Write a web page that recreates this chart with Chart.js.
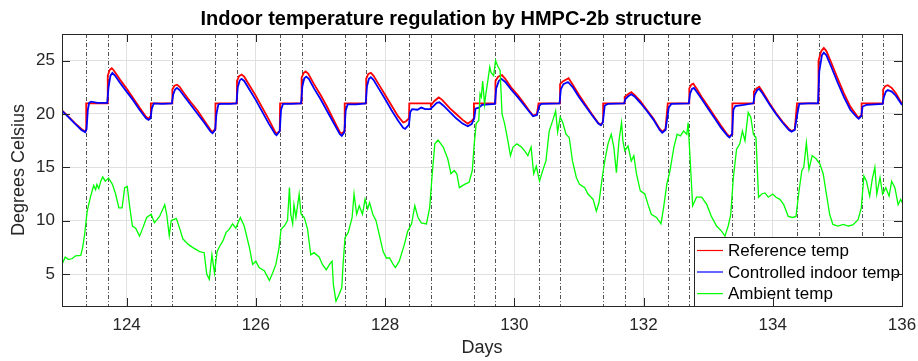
<!DOCTYPE html>
<html>
<head>
<meta charset="utf-8">
<script src="https://cdn.jsdelivr.net/npm/chart.js@4"></script>
<style>
  html, body { margin: 0; padding: 0; background: #fff; }
  canvas { display: block; }
</style>
</head>
<body>
<canvas id="tempChart" width="918" height="361"></canvas>
<script>
// Data
const xTicks = [124, 126, 128, 130, 132, 134, 136];
const yTicks = [5, 10, 15, 20, 25];

// occupancy switch times (09:00 and 17:00 each day)
const switchDays = [
  123.375, 123.708, 124.375, 124.708, 125.375, 125.708, 126.375, 126.708,
  127.375, 127.708, 128.375, 128.708, 129.375, 129.708, 130.375, 130.708,
  131.375, 131.708, 132.375, 132.708, 133.375, 133.708, 134.375, 134.708,
  135.375, 135.708,
];

// Reference temp
const refDays = [
  123.0, 123.1, 123.2, 123.3, 123.36, 123.375, 123.375, 123.708, 123.708, 123.74, 123.77, 123.8, 123.9, 124.0, 124.1, 124.2, 124.3, 124.34, 124.37,
  124.375, 124.708, 124.708, 124.74, 124.78, 124.82, 124.9, 125.0, 125.1, 125.2, 125.3, 125.33, 125.37,
  125.375, 125.708, 125.708, 125.74, 125.78, 125.82, 125.9, 126.0, 126.1, 126.2, 126.3, 126.32, 126.37,
  126.375, 126.708, 126.708, 126.74, 126.77, 126.81, 126.9, 127.0, 127.1, 127.2, 127.3, 127.33, 127.37,
  127.375, 127.708, 127.708, 127.74, 127.78, 127.82, 127.9, 128.0, 128.1, 128.2, 128.28, 128.32, 128.37,
  128.375, 128.708, 128.708, 128.76, 128.83, 128.88, 129.0, 129.1, 129.2, 129.28, 129.34, 129.375,
  129.375, 129.708, 129.708, 129.75, 129.81, 129.86, 129.95, 130.05, 130.15, 130.22, 130.29, 130.35,
  130.375, 130.708, 130.708, 130.75, 130.84, 130.9, 131.0, 131.1, 131.2, 131.3, 131.34, 131.375,
  131.375, 131.708, 131.708, 131.76, 131.81, 131.86, 131.95, 132.05, 132.15, 132.25, 132.29, 132.34,
  132.375, 132.708, 132.708, 132.74, 132.77, 132.82, 132.9, 133.0, 133.1, 133.2, 133.3, 133.33, 133.37,
  133.375, 133.708, 133.708, 133.75, 133.79, 133.84, 133.95, 134.05, 134.15, 134.25, 134.29, 134.34,
  134.375, 134.708, 134.708, 134.75, 134.79, 134.83, 134.9, 135.0, 135.1, 135.2, 135.3, 135.33, 135.37,
  135.375, 135.708, 135.708, 135.74, 135.78, 135.84, 135.9, 136.0,
];
const refTemp = [
  20.35, 19.75, 19.15, 18.6, 18.35, 18.5, 21.0, 21.0, 23.6, 24.15, 24.3, 24.1, 23.2, 22.4, 21.5, 20.6, 19.75, 19.55, 19.8,
  21.0, 21.0, 22.3, 22.65, 22.75, 22.55, 21.85, 21.05, 20.3, 19.4, 18.5, 18.3, 18.6,
  21.0, 21.0, 23.1, 23.55, 23.7, 23.5, 22.7, 21.7, 20.6, 19.5, 18.3, 18.15, 18.4,
  21.0, 21.0, 23.4, 23.85, 24.0, 23.8, 22.8, 21.8, 20.7, 19.5, 18.3, 18.15, 18.4,
  21.0, 21.0, 23.3, 23.75, 23.85, 23.6, 22.8, 21.8, 20.8, 19.8, 19.2, 19.3, 19.6,
  21.0, 21.0, 20.8, 21.2, 21.55, 21.35, 20.55, 20.0, 19.45, 19.1, 19.35, 19.6,
  21.0, 21.0, 23.1, 23.5, 23.65, 23.3, 22.5, 21.8, 21.0, 20.4, 19.85, 20.0,
  21.0, 21.0, 22.8, 23.05, 23.35, 22.8, 21.8, 20.9, 20.0, 19.15, 19.0, 19.3,
  21.0, 21.0, 21.6, 21.85, 22.05, 21.8, 21.2, 20.4, 19.6, 18.6, 18.35, 18.6,
  21.0, 21.0, 22.4, 22.75, 22.85, 22.4, 21.6, 20.7, 19.8, 18.9, 18.05, 17.9, 18.1,
  21.0, 21.0, 22.1, 22.4, 22.55, 22.1, 21.0, 20.1, 19.3, 18.6, 18.4, 18.55,
  21.0, 21.0, 25.0, 25.9, 26.2, 25.9, 24.9, 23.4, 21.95, 20.7, 19.85, 19.65, 19.9,
  21.0, 21.0, 22.3, 22.6, 22.7, 22.45, 22.0, 20.95,
];

// Controlled indoor temp
const ctrlDays = [
  123.0, 123.1, 123.2, 123.3, 123.36, 123.38, 123.4, 123.42, 123.45, 123.55, 123.7, 123.72, 123.75, 123.78, 123.82, 123.9, 124.0, 124.1, 124.2, 124.3, 124.34, 124.37,
  124.39, 124.42, 124.55, 124.7, 124.72, 124.75, 124.78, 124.82, 124.9, 125.0, 125.1, 125.2, 125.3, 125.33, 125.37,
  125.39, 125.42, 125.46, 125.6, 125.7, 125.72, 125.75, 125.78, 125.82, 125.9, 126.0, 126.1, 126.2, 126.3, 126.32, 126.37,
  126.39, 126.42, 126.55, 126.7, 126.72, 126.75, 126.78, 126.82, 126.9, 127.0, 127.1, 127.2, 127.3, 127.33, 127.37,
  127.39, 127.42, 127.55, 127.7, 127.72, 127.75, 127.78, 127.82, 127.9, 128.0, 128.1, 128.2, 128.28, 128.31, 128.37,
  128.39, 128.42, 128.5, 128.56, 128.62, 128.7, 128.74, 128.8, 128.84, 128.9, 129.0, 129.1, 129.2, 129.28, 129.34, 129.38,
  129.4, 129.45, 129.5, 129.7, 129.72, 129.76, 129.8, 129.86, 129.95, 130.05, 130.15, 130.22, 130.29, 130.35,
  130.39, 130.42, 130.7, 130.72, 130.76, 130.83, 130.9, 131.0, 131.1, 131.2, 131.3, 131.34, 131.37,
  131.4, 131.45, 131.7, 131.72, 131.77, 131.81, 131.86, 131.95, 132.05, 132.15, 132.25, 132.29, 132.34,
  132.39, 132.43, 132.7, 132.72, 132.75, 132.78, 132.82, 132.9, 133.0, 133.1, 133.2, 133.3, 133.33, 133.37,
  133.39, 133.42, 133.55, 133.7, 133.72, 133.76, 133.79, 133.84, 133.95, 134.05, 134.15, 134.25, 134.29, 134.34,
  134.38, 134.41, 134.55, 134.7, 134.72, 134.76, 134.79, 134.83, 134.9, 135.0, 135.1, 135.2, 135.3, 135.33, 135.37,
  135.39, 135.45, 135.7, 135.72, 135.75, 135.78, 135.84, 135.9, 136.0,
];
const ctrlTemp = [
  20.3, 19.7, 19.1, 18.5, 18.3, 18.6, 20.4, 21.05, 21.15, 21.05, 21.05, 22.5, 23.6, 23.85, 23.6, 22.9, 22.1, 21.3, 20.4, 19.6, 19.45, 19.6,
  20.5, 21.0, 20.95, 21.0, 21.8, 22.3, 22.45, 22.25, 21.6, 20.8, 20.0, 19.2, 18.35, 18.2, 18.5,
  20.0, 20.9, 20.95, 20.95, 21.0, 22.5, 23.15, 23.3, 23.1, 22.3, 21.3, 20.2, 19.1, 18.1, 18.0, 18.4,
  20.4, 20.95, 20.95, 21.0, 22.6, 23.35, 23.5, 23.3, 22.4, 21.4, 20.3, 19.2, 18.1, 17.95, 18.3,
  20.3, 20.9, 20.9, 21.0, 22.6, 23.3, 23.45, 23.2, 22.4, 21.4, 20.35, 19.4, 18.7, 18.6, 19.0,
  20.2, 20.45, 20.4, 20.6, 20.45, 20.45, 20.7, 21.05, 21.1, 20.8, 20.2, 19.6, 19.1, 18.85, 19.05, 19.6,
  20.5, 20.6, 20.85, 20.95, 22.4, 23.1, 23.3, 23.0, 22.3, 21.6, 20.85, 20.3, 19.8, 19.9,
  20.8, 20.95, 21.0, 22.3, 22.8, 23.0, 22.55, 21.6, 20.75, 19.9, 19.1, 18.95, 19.2,
  20.8, 20.95, 21.0, 21.4, 21.7, 21.85, 21.65, 21.05, 20.3, 19.5, 18.5, 18.25, 18.5,
  20.6, 20.95, 21.0, 21.9, 22.35, 22.45, 22.1, 21.4, 20.5, 19.6, 18.7, 17.95, 17.8, 18.1,
  20.4, 20.75, 20.85, 21.0, 21.8, 22.25, 22.35, 21.95, 20.9, 20.0, 19.2, 18.5, 18.35, 18.5,
  20.0, 20.95, 21.0, 21.0, 24.0, 25.5, 25.75, 25.5, 24.5, 23.0, 21.6, 20.4, 19.7, 19.55, 19.8,
  20.7, 20.85, 20.95, 21.6, 22.1, 22.25, 22.1, 21.75, 20.85,
];

// Ambient temp
const ambDays = [
  123.0, 123.05, 123.1, 123.16, 123.21, 123.29, 123.32, 123.35, 123.39, 123.44, 123.49, 123.52, 123.54, 123.57, 123.6, 123.63, 123.67, 123.72, 123.78, 123.83,
  123.88, 123.93, 123.97, 124.01, 124.05, 124.09, 124.14, 124.2, 124.25, 124.31, 124.38, 124.43, 124.51, 124.59, 124.62, 124.66, 124.69, 124.72, 124.77, 124.82,
  124.87, 124.95, 125.02, 125.13, 125.2, 125.24, 125.28, 125.32, 125.36, 125.4, 125.44, 125.49, 125.54, 125.59, 125.64, 125.69, 125.76, 125.82, 125.9, 125.95,
  126.0, 126.05, 126.13, 126.21, 126.26, 126.31, 126.36, 126.39, 126.44, 126.49, 126.52, 126.54, 126.57, 126.59, 126.62, 126.67, 126.7, 126.75, 126.8, 126.85,
  126.9, 126.98, 127.03, 127.09, 127.14, 127.18, 127.2, 127.24, 127.29, 127.33, 127.35, 127.38, 127.43, 127.49, 127.52, 127.56, 127.6, 127.65, 127.69, 127.73,
  127.76, 127.81, 127.86, 127.91, 127.97, 128.02, 128.07, 128.12, 128.16, 128.22, 128.3, 128.35, 128.41, 128.46, 128.51, 128.56, 128.64, 128.69, 128.73, 128.77,
  128.82, 128.9, 128.97, 129.02, 129.07, 129.11, 129.15, 129.23, 129.3, 129.35, 129.38, 129.41, 129.45, 129.47, 129.49, 129.51, 129.54, 129.56, 129.59, 129.62,
  129.64, 129.68, 129.71, 129.75, 129.78, 129.81, 129.85, 129.9, 129.94, 129.98, 130.04, 130.11, 130.16, 130.21, 130.26, 130.3, 130.34, 130.39, 130.44, 130.49,
  130.54, 130.6, 130.64, 130.67, 130.71, 130.75, 130.8, 130.85, 130.9, 130.96, 131.01, 131.09, 131.14, 131.22, 131.27, 131.31, 131.36, 131.4, 131.45, 131.5,
  131.54, 131.58, 131.62, 131.66, 131.68, 131.71, 131.76, 131.81, 131.85, 131.89, 131.95, 132.02, 132.07, 132.12, 132.2, 132.27, 132.31, 132.36, 132.41, 132.47,
  132.52, 132.57, 132.62, 132.67, 132.69, 132.72, 132.76, 132.82, 132.9, 132.98, 133.05, 133.13, 133.21, 133.26, 133.31, 133.35, 133.39, 133.44, 133.49, 133.53,
  133.57, 133.62, 133.66, 133.7, 133.74, 133.78, 133.83, 133.88, 133.93, 134.0, 134.05, 134.11, 134.17, 134.24, 134.31, 134.36, 134.4, 134.45, 134.48, 134.52,
  134.56, 134.61, 134.67, 134.73, 134.78, 134.83, 134.88, 134.93, 135.01, 135.09, 135.17, 135.24, 135.32, 135.37, 135.41, 135.45, 135.5, 135.54, 135.58, 135.61,
  135.66, 135.7, 135.75, 135.8, 135.84, 135.89, 135.94, 135.98, 136.0,
];
const ambTemp = [
  5.9, 6.6, 6.35, 6.45, 6.7, 6.75, 7.5, 8.7, 10.9, 12.2, 13.3, 12.9, 13.4, 13.0, 13.7, 14.1, 13.7, 14.0, 13.4, 12.5,
  11.2, 11.2, 13.1, 13.2, 11.2, 9.5, 9.3, 8.55, 9.3, 10.3, 10.6, 9.8, 10.4, 11.5, 10.6, 8.6, 10.0, 10.1, 10.2, 9.3,
  8.3, 7.8, 7.5, 7.1, 7.0, 5.0, 4.5, 6.8, 5.1, 7.1, 7.6, 8.1, 8.9, 9.2, 9.7, 9.3, 10.3, 9.5, 7.5, 5.9,
  6.2, 5.6, 5.3, 4.4, 5.1, 5.9, 7.5, 9.2, 9.5, 10.0, 13.1, 10.6, 9.7, 11.5, 10.3, 12.5, 10.6, 10.3, 9.2, 6.8,
  7.0, 6.6, 5.9, 5.4, 5.9, 6.2, 4.0, 2.45, 3.1, 3.7, 5.9, 8.4, 8.9, 10.3, 12.5, 10.6, 11.4, 10.6, 12.0, 11.1,
  11.7, 10.6, 10.0, 8.7, 7.1, 6.5, 6.5, 5.95, 5.6, 6.2, 7.8, 9.0, 9.7, 11.4, 10.3, 9.8, 9.7, 11.2, 14.4, 17.2,
  17.55, 16.9, 15.8, 14.4, 14.7, 14.4, 13.1, 13.4, 13.6, 14.7, 17.2, 19.1, 19.4, 21.9, 21.6, 23.1, 20.9, 21.9, 23.1, 24.4,
  23.9, 23.6, 25.0, 24.4, 24.1, 20.0, 19.1, 17.5, 16.1, 16.9, 17.2, 16.9, 16.55, 16.1, 16.9, 14.4, 15.1, 13.7, 14.7, 15.6,
  18.4, 19.5, 20.3, 18.3, 19.7, 19.2, 18.1, 17.8, 15.6, 14.05, 13.4, 13.1, 12.5, 12.0, 10.9, 11.7, 14.0, 15.6, 17.2, 18.1,
  16.9, 14.5, 17.5, 19.2, 17.5, 16.55, 17.0, 15.6, 16.1, 14.4, 12.8, 12.5, 11.5, 10.6, 10.3, 9.7, 11.2, 13.4, 14.7, 16.9,
  18.1, 17.95, 18.4, 18.1, 19.2, 15.9, 11.4, 12.2, 12.2, 11.5, 10.4, 9.5, 9.0, 8.55, 9.5, 10.6, 14.05, 16.7, 17.2, 18.4,
  17.5, 20.15, 19.7, 18.1, 17.8, 12.2, 12.5, 12.6, 12.2, 12.5, 12.2, 12.0, 11.5, 10.4, 10.3, 10.4, 12.5, 14.7, 15.0, 17.3,
  14.8, 16.1, 15.8, 15.3, 14.4, 12.5, 10.6, 9.65, 9.5, 9.65, 9.5, 9.6, 10.1, 11.2, 14.2, 13.7, 12.3, 13.9, 15.0, 12.5,
  14.05, 12.5, 13.1, 12.3, 13.7, 13.1, 11.5, 12.0, 11.7,
];

const toPoints = (xs, ys) => xs.map((x, i) => ({ x: x, y: ys[i] }));

const axisColor = "#262626";
const fontFamily = "'Liberation Sans', Arial, Helvetica, sans-serif";

// dash-dot switch lines behind the curves
const switchLines = {
  id: "switchLines",
  beforeDatasetsDraw(chart) {
    const { ctx, chartArea, scales } = chart;
    ctx.save();
    ctx.strokeStyle = "#555";
    ctx.lineWidth = 1;
    ctx.setLineDash([4, 2, 1, 2]);
    switchDays.forEach((d) => {
      const x = Math.round(scales.x.getPixelForValue(d)) + 0.5;
      ctx.beginPath();
      ctx.moveTo(x, chartArea.top);
      ctx.lineTo(x, chartArea.bottom);
      ctx.stroke();
    });
    ctx.restore();
  },
};

// MATLAB-like box, inward ticks and legend box
const boxAndLegend = {
  id: "boxAndLegend",
  afterDatasetsDraw(chart) {
    const { ctx, chartArea, scales } = chart;
    const { left, right, top, bottom } = chartArea;
    ctx.save();

    // legend
    const lw = 208, lh = 69;
    const lx = right - lw, ly = bottom - lh;
    ctx.fillStyle = "#fff";
    ctx.fillRect(lx, ly, lw, lh);
    ctx.strokeStyle = axisColor;
    ctx.lineWidth = 1;
    ctx.strokeRect(Math.round(lx) + 0.5, Math.round(ly) + 0.5, lw, lh);
    ctx.font = "17px " + fontFamily;
    ctx.textBaseline = "middle";
    ctx.textAlign = "left";
    const rowY = [13.5, 35, 56.6];
    chart.data.datasets.forEach((ds, i) => {
      const y = ly + rowY[i];
      ctx.strokeStyle = ds.borderColor;
      ctx.lineWidth = 1.2;
      ctx.beginPath();
      ctx.moveTo(lx + 3, y);
      ctx.lineTo(lx + 29, y);
      ctx.stroke();
      ctx.fillStyle = "#000";
      ctx.fillText(ds.label, lx + 34, y + 1);
    });

    // axes box
    ctx.strokeStyle = axisColor;
    ctx.lineWidth = 1;
    ctx.strokeRect(Math.round(left) + 0.5, Math.round(top) + 0.5, Math.round(right - left), Math.round(bottom - top));

    // inward ticks
    const tl = 8;
    ctx.beginPath();
    xTicks.forEach((v) => {
      const x = Math.round(scales.x.getPixelForValue(v)) + 0.5;
      ctx.moveTo(x, bottom);
      ctx.lineTo(x, bottom - tl);
      ctx.moveTo(x, top);
      ctx.lineTo(x, top + tl);
    });
    yTicks.forEach((v) => {
      const y = Math.round(scales.y.getPixelForValue(v)) + 0.5;
      ctx.moveTo(left, y);
      ctx.lineTo(left + tl, y);
      ctx.moveTo(right, y);
      ctx.lineTo(right - tl, y);
    });
    ctx.stroke();
    ctx.restore();
  },
};

new Chart(document.getElementById("tempChart"), {
  type: "line",
  data: {
    datasets: [
      {
        label: "Reference temp",
        data: toPoints(refDays, refTemp),
        borderColor: "#ff0000",
        borderWidth: 1.8,
        order: 3,
      },
      {
        label: "Controlled indoor temp",
        data: toPoints(ctrlDays, ctrlTemp),
        borderColor: "#0000ff",
        borderWidth: 1.8,
        order: 2,
      },
      {
        label: "Ambient temp",
        data: toPoints(ambDays, ambTemp),
        borderColor: "#00ff00",
        borderWidth: 1.3,
        order: 1,
      },
    ],
  },
  options: {
    responsive: false,
    animation: false,
    devicePixelRatio: 1,
    elements: { point: { radius: 0 }, line: { tension: 0 } },
    layout: { padding: { left: 0, right: 16, top: 0, bottom: 0 } },
    plugins: {
      legend: { display: false },
      tooltip: { enabled: false },
      title: {
        display: true,
        text: "Indoor temperature regulation by HMPC-2b structure",
        color: "#000",
        font: { family: fontFamily, size: 20, weight: "bold" },
        padding: { top: 7, bottom: 3 },
      },
    },
    scales: {
      x: {
        type: "linear",
        min: 123,
        max: 136,
        afterBuildTicks: (scale) => {
          scale.ticks = xTicks.map((v) => ({ value: v }));
        },
        afterFit: (scale) => {
          scale.height = 55;
          scale.paddingLeft = 0;
          scale.paddingRight = 0;
        },
        grid: { color: "#e0e0e0", drawTicks: false },
        border: { display: false },
        ticks: {
          color: axisColor,
          padding: 9,
          maxRotation: 0,
          font: { family: fontFamily, size: 17 },
        },
        title: {
          display: true,
          text: "Days",
          color: axisColor,
          font: { family: fontFamily, size: 18 },
          padding: { top: 0, bottom: 2 },
        },
      },
      y: {
        type: "linear",
        min: 2,
        max: 27.5,
        afterBuildTicks: (scale) => {
          scale.ticks = yTicks.map((v) => ({ value: v }));
        },
        afterFit: (scale) => {
          scale.width = 62;
          scale.paddingTop = 0;
          scale.paddingBottom = 0;
        },
        grid: { color: "#e0e0e0", drawTicks: false },
        border: { display: false },
        ticks: {
          color: axisColor,
          padding: 7,
          font: { family: fontFamily, size: 17 },
        },
        title: {
          display: true,
          text: "Degrees Celsius",
          color: axisColor,
          font: { family: fontFamily, size: 18 },
          padding: { top: 8, bottom: 0 },
        },
      },
    },
  },
  plugins: [switchLines, boxAndLegend],
});
</script>
</body>
</html>
